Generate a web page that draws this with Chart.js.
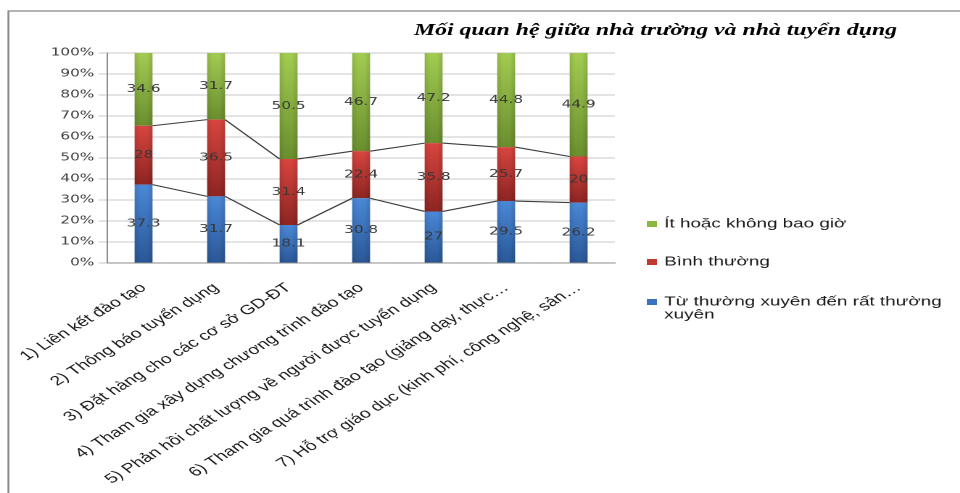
<!DOCTYPE html>
<html>
<head>
<meta charset="utf-8">
<script src="https://cdn.jsdelivr.net/npm/chart.js@4/dist/chart.umd.min.js"></script>
<style>
  html, body { margin: 0; padding: 0; background: #fff; overflow: hidden; }
  #wrap { position: absolute; left: 0; top: 0; width: 662px; height: 493px;
          transform: scaleX(1.4502); transform-origin: 0 0; }
</style>
</head>
<body>
<div id="wrap"><canvas id="c"></canvas></div>
<script>
const chartTitle = 'Mối quan hệ giữa nhà trường và nhà tuyển dụng';
const categories = [
  '1) Liên kết đào tạo',
  '2) Thông báo tuyển dụng',
  '3) Đặt hàng cho các cơ sở GD-ĐT',
  '4) Tham gia xây dựng chương trình đào tạo',
  '5) Phản hồi chất lượng về người được tuyển dụng',
  '6) Tham gia quá trình đào tạo (giảng dạy, thực…',
  '7) Hỗ trợ giáo dục (kinh phí, công nghệ, sản…'
];
const seriesNames = ['Từ thường xuyên đến rất thường xuyên', 'Bình thường', 'Ít hoặc không bao giờ'];
const valFrequent = [37.3, 31.7, 18.1, 30.8, 27, 29.5, 26.2];
const valNormal   = [28, 36.5, 31.4, 22.4, 35.8, 25.7, 20];
const valRare     = [34.6, 31.7, 50.5, 46.7, 47.2, 44.8, 44.9];

const rawSeries = [valFrequent, valNormal, valRare];
const totals = categories.map((_, i) => rawSeries.reduce((s, a) => s + a[i], 0));
const pctSeries = rawSeries.map(a => a.map((v, i) => v / totals[i] * 100));

const colorStops = [
  ['#4a88d6', '#2a5796', '#3b72c0'],
  ['#d8453f', '#8c2522', '#c0392f'],
  ['#a2cc52', '#6a8e2e', '#8db63c']
];

function segGradient(ctx) {
  const chart = ctx.chart;
  const d = ctx.datasetIndex, i = ctx.dataIndex;
  const cs = colorStops[d];
  const y = chart.scales && chart.scales.y;
  if (!chart.chartArea || !y || i === undefined) return cs[2];
  let start = 0;
  for (let k = 0; k < d; k++) start += pctSeries[k][i];
  const end = start + pctSeries[d][i];
  const top = y.getPixelForValue(end), bot = y.getPixelForValue(start);
  if (!isFinite(top) || !isFinite(bot) || top === bot) return cs[2];
  const g = chart.ctx.createLinearGradient(0, top, 0, bot);
  g.addColorStop(0, cs[0]);
  g.addColorStop(1, cs[1]);
  return g;
}

const framePlugin = {
  id: 'frame',
  beforeDraw(chart) {
    const c = chart.ctx;
    c.save();
    c.strokeStyle = '#8a8a8a';
    c.lineWidth = 1.3;
    c.strokeRect(5.8, 11, 1000, 1000);
    c.restore();
  }
};

const overlayPlugin = {
  id: 'overlay',
  afterDatasetsDraw(chart) {
    const c = chart.ctx;
    c.save();
    // subtle edge shading on bars
    chart.data.datasets.forEach((ds, d) => {
      chart.getDatasetMeta(d).data.forEach(el => {
        const l = el.x - el.width / 2, r = el.x + el.width / 2;
        const g = c.createLinearGradient(l, 0, r, 0);
        g.addColorStop(0, 'rgba(0,0,0,0.10)');
        g.addColorStop(0.3, 'rgba(0,0,0,0)');
        g.addColorStop(0.7, 'rgba(0,0,0,0)');
        g.addColorStop(1, 'rgba(0,0,0,0.12)');
        c.fillStyle = g;
        c.fillRect(l, el.y, el.width, el.base - el.y);
      });
    });
    // series lines
    c.strokeStyle = '#3c3c3c';
    c.lineWidth = 1.1;
    for (let d = 0; d < 2; d++) {
      const els = chart.getDatasetMeta(d).data;
      c.beginPath();
      for (let i = 0; i < els.length - 1; i++) {
        const a = els[i], b = els[i + 1];
        c.moveTo(a.x + a.width / 2, a.y);
        c.lineTo(b.x - b.width / 2, b.y);
      }
      c.stroke();
    }
    // data labels
    c.font = '10.5px "DejaVu Sans"';
    c.fillStyle = '#383838';
    c.textAlign = 'center';
    c.textBaseline = 'middle';
    chart.data.datasets.forEach((ds, d) => {
      chart.getDatasetMeta(d).data.forEach((el, i) => {
        c.fillText(String(ds.rawValues[i]), el.x, (el.y + el.base) / 2);
      });
    });
    c.restore();
  }
};

const titleLegendPlugin = {
  id: 'titleLegend',
  afterDraw(chart) {
    const c = chart.ctx;
    c.save();
    c.font = 'bold italic 16.4px "Liberation Serif"';
    c.fillStyle = '#000';
    c.textAlign = 'center';
    c.textBaseline = 'middle';
    c.fillText(chartTitle, 452, 31);

    c.font = '13px "Liberation Sans"';
    c.textAlign = 'left';
    const ys = [224, 262, 302];
    const maxW = 200;
    const dsList = chart.data.datasets.slice().reverse();
    dsList.forEach((ds, k) => {
      const cy = ys[k];
      c.fillStyle = colorStops[chart.data.datasets.indexOf(ds)][2];
      c.fillRect(446, cy - 3, 7, 6);
      c.fillStyle = '#1a1a1a';
      const words = ds.label.split(' ');
      let line = '', lines = [];
      words.forEach(w => {
        const t = line ? line + ' ' + w : w;
        if (c.measureText(t).width > maxW && line) { lines.push(line); line = w; }
        else line = t;
      });
      lines.push(line);
      lines.forEach((l, j) => c.fillText(l, 458, cy + j * 13));
    });
    c.restore();
  }
};

new Chart(document.getElementById('c'), {
  type: 'bar',
  data: {
    labels: categories,
    datasets: pctSeries.map((p, d) => ({
      label: seriesNames[d],
      data: p,
      rawValues: rawSeries[d],
      backgroundColor: segGradient,
      borderWidth: 0,
      stack: 's',
      barPercentage: 0.247,
      categoryPercentage: 1
    }))
  },
  options: {
    responsive: true,
    maintainAspectRatio: false,
    devicePixelRatio: 2,
    animation: false,
    layout: { padding: { left: 0, top: 53, right: 238, bottom: 0 } },
    plugins: { legend: { display: false }, title: { display: false }, tooltip: { enabled: false } },
    scales: {
      x: {
        stacked: true,
        grid: { display: false },
        border: { display: true, color: '#8c8c8c', width: 1 },
        ticks: {
          autoSkip: false, maxRotation: 41, minRotation: 41, padding: 9,
          font: { family: 'Liberation Sans', size: 13.3 }, color: '#1a1a1a'
        },
        afterFit(scale) { scale.height = 230; }
      },
      y: {
        stacked: true,
        min: 0, max: 100,
        grid: { color: '#c9c9c9', lineWidth: 1, tickLength: 6 },
        border: { display: true, color: '#8c8c8c', width: 1 },
        ticks: {
          stepSize: 10, padding: 3,
          callback: v => v + '%',
          font: { family: 'DejaVu Sans', size: 10.5 }, color: '#404040'
        },
        afterFit(scale) { scale.width = 74; }
      }
    }
  },
  plugins: [framePlugin, overlayPlugin, titleLegendPlugin]
});
</script>
</body>
</html>
